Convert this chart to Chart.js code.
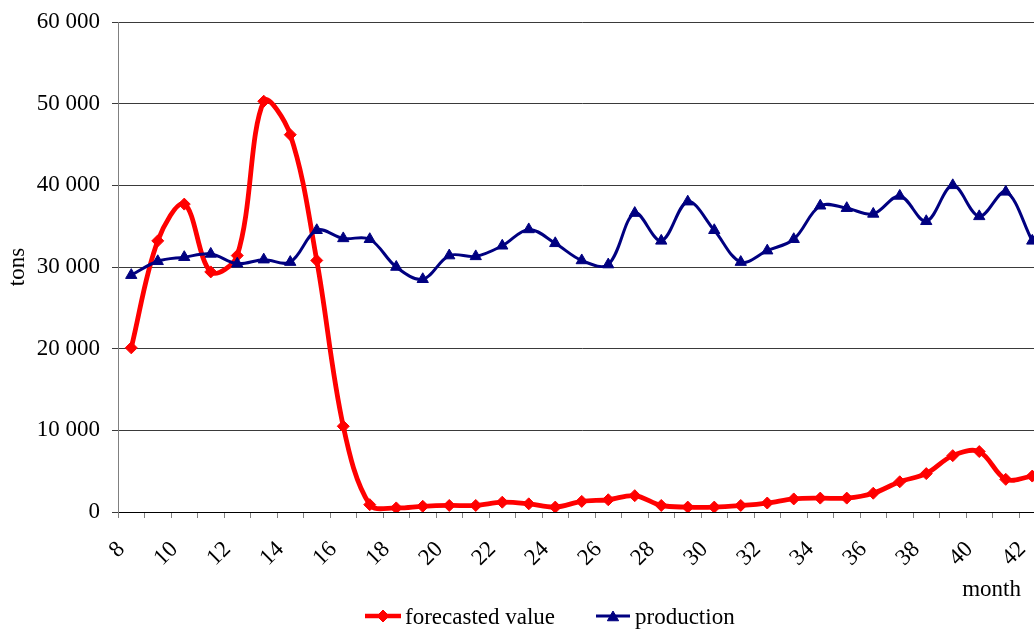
<!DOCTYPE html>
<html><head><meta charset="utf-8">
<script src="https://cdn.jsdelivr.net/npm/chart.js@4.4.0/dist/chart.umd.min.js"></script>
<style>
html,body{margin:0;padding:0;overflow:hidden;background:#fff;width:1034px;height:630px;}
#c{position:absolute;left:0;top:0;}
</style></head><body>
<canvas id="c" width="1053" height="630"></canvas>
<script>
const months = [8,9,10,11,12,13,14,15,16,17,18,19,20,21,22,23,24,25,26,27,28,29,30,31,32,33,34,35,36,37,38,39,40,41,42];
const forecasted = [20100,33200,37700,29400,31400,50300,46200,30800,10500,900,500,700,800,800,1200,1000,600,1300,1500,2000,800,600,600,800,1100,1600,1700,1700,2300,3700,4700,6900,7400,4000,4400];
const production = [29000,30700,31200,31600,30400,30900,30600,34500,33500,33400,30000,28500,31400,31300,32600,34600,32900,30800,30300,36600,33200,38000,34500,30600,32000,33400,37500,37200,36500,38700,35600,40000,36200,39200,33200];
const seriesNames = ['forecasted value','production'];
const yMin = 0, yMax = 60000, yStep = 10000;
const xTitle = 'month', yTitle = 'tons';

const FONT = "'Liberation Serif', 'Times New Roman', serif";
Chart.defaults.font.family = FONT;
Chart.defaults.font.size = 23;
Chart.defaults.color = '#000';

const RED = '#FF0000', NAVY = '#000080';

const fmt = v => String(v).replace(/\B(?=(\d{3})+(?!\d))/g, ' ');

const extras = {
  id: 'extras',
  afterDraw(chart) {
    const ctx = chart.ctx;
    ctx.save();
    ctx.font = "23px " + FONT;
    ctx.fillStyle = '#000';
    ctx.textBaseline = 'alphabetic';
    ctx.textAlign = 'right';
    ctx.fillText(xTitle, 1021, 596);
    const items = [
      {name: seriesNames[0], color: RED, lw: 4.5, style: 'rectRot', r: 6, x0: 365, x1: 401, tx: 405},
      {name: seriesNames[1], color: NAVY, lw: 3, style: 'triangle', r: 6.5, x0: 596, x1: 630, tx: 635}
    ];
    const ly = 616;
    ctx.textAlign = 'left';
    items.forEach(it => {
      ctx.strokeStyle = it.color; ctx.lineWidth = it.lw;
      ctx.beginPath(); ctx.moveTo(it.x0, ly); ctx.lineTo(it.x1, ly); ctx.stroke();
      ctx.fillStyle = it.color; ctx.lineWidth = 1;
      Chart.helpers.drawPoint(ctx, {pointStyle: it.style, radius: it.r, rotation: 0, borderWidth: 1}, (it.x0+it.x1)/2, ly + (it.style==='triangle'?1.5:0));
      ctx.fillStyle = '#000';
      ctx.fillText(it.name, it.tx, 624);
    });
    ctx.restore();
  }
};

new Chart(document.getElementById('c'), {
  type: 'line',
  data: {
    labels: months.map(String),
    datasets: [
      {label: seriesNames[0], data: forecasted, borderColor: RED, backgroundColor: RED, borderWidth: 4.8,
       pointStyle: 'rectRot', pointRadius: 6, pointBorderWidth: 1, pointBackgroundColor: RED, pointBorderColor: RED,
       tension: 0.35, order: 1},
      {label: seriesNames[1], data: production, borderColor: NAVY, backgroundColor: NAVY, borderWidth: 3,
       pointStyle: 'triangle', pointRadius: 6.5, pointBorderWidth: 1, pointBackgroundColor: NAVY, pointBorderColor: NAVY,
       tension: 0.35, order: 0}
    ]
  },
  options: {
    responsive: false,
    animation: false,
    layout: {padding: {top: 22, left: 0, right: 0, bottom: 0}},
    plugins: {legend: {display: false}, tooltip: {enabled: false}},
    scales: {
      x: {
        type: 'category',
        offset: true,
        afterFit: s => { s.height = 118; s.paddingLeft = 0; s.paddingRight = 0; },
        grid: {offset: true, drawOnChartArea: false, drawTicks: true, tickLength: 6, color: '#808080'},
        border: {color: '#000', width: 1},
        ticks: {
          autoSkip: false, maxRotation: 45, minRotation: 45, padding: 18, labelOffset: -10,
          callback: (v, i) => (months[i] % 2 === 0 ? String(months[i]) : '')
        }
      },
      y: {
        min: yMin, max: yMax,
        afterFit: s => { s.width = 118; s.paddingTop = 0; s.paddingBottom = 0; },
        grid: {color: '#3a3a3a', lineWidth: 1, tickLength: 6, drawTicks: true},
        border: {color: '#808080', width: 1},
        ticks: {stepSize: yStep, padding: 12, callback: v => fmt(v)},
        title: {display: true, text: yTitle, padding: {top: 4, bottom: 0}}
      }
    }
  },
  plugins: [extras]
});
</script>
</body></html>
